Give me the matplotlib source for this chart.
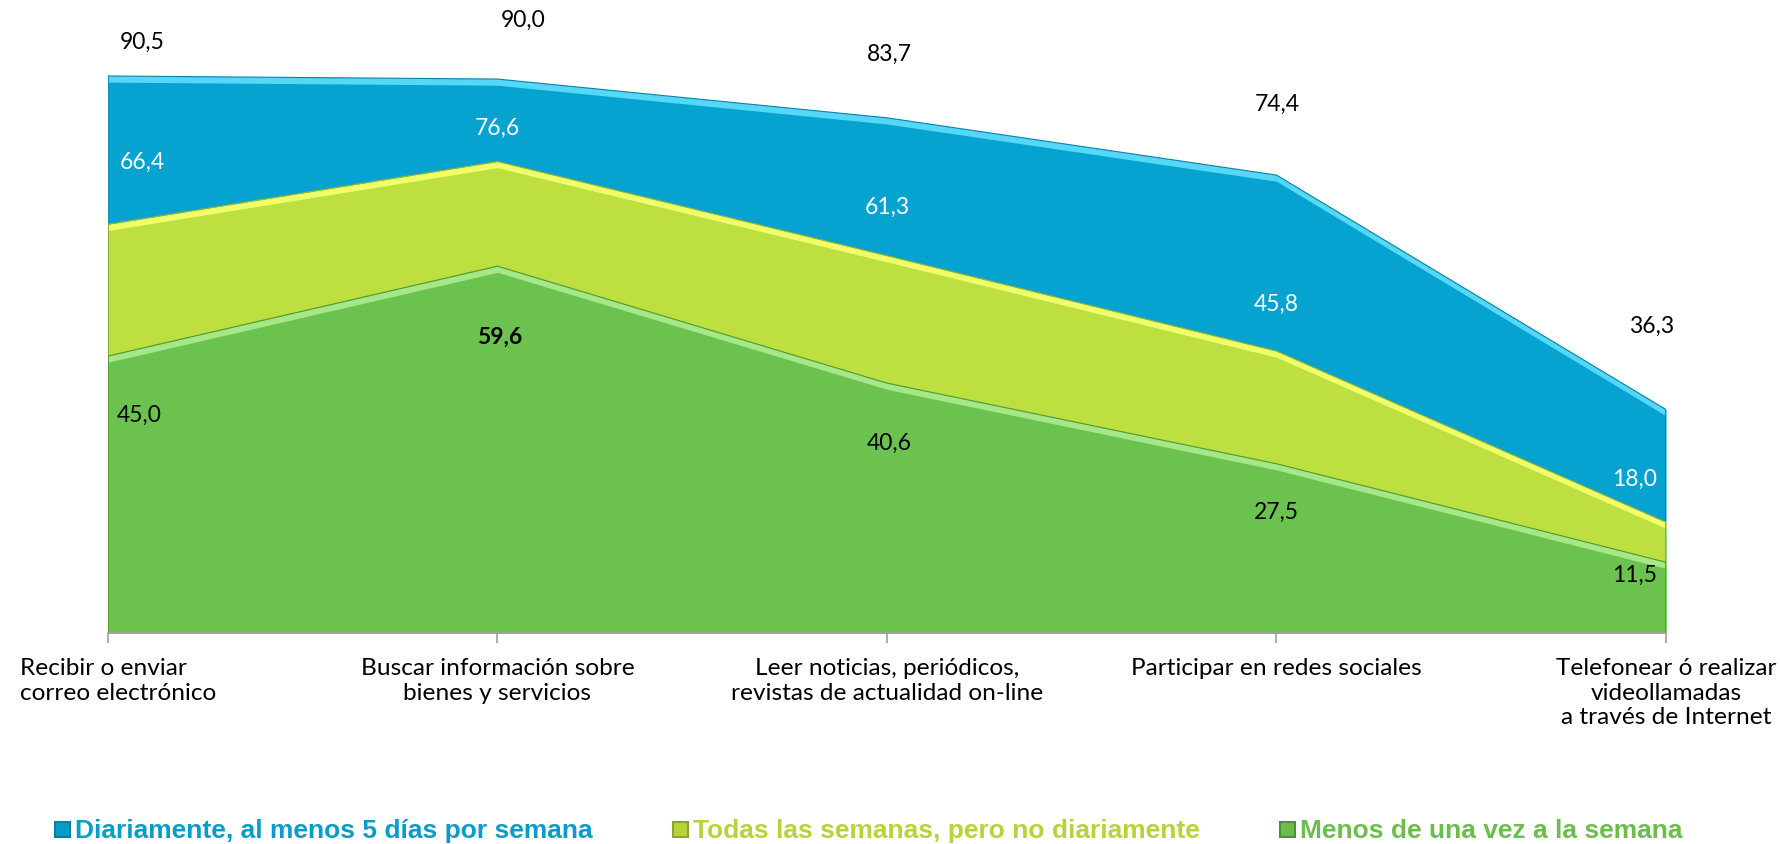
import matplotlib
matplotlib.use("Agg")
import matplotlib.pyplot as plt
from matplotlib.patches import Rectangle
import numpy as np

categories = ["Recibir o enviar\ncorreo electrónico",
              "Buscar información sobre\nbienes y servicios",
              "Leer noticias, periódicos,\nrevistas de actualidad on-line",
              "Participar en redes sociales",
              "Telefonear ó realizar\nvideollamadas\na través de Internet"]
series_names = ["Diariamente, al menos 5 días por semana",
                "Todas las semanas, pero no diariamente",
                "Menos de una vez a la semana"]
diario = [90.5, 90.0, 83.7, 74.4, 36.3]
semanal = [66.4, 76.6, 61.3, 45.8, 18.0]
menos = [45.0, 59.6, 40.6, 27.5, 11.5]
label_texts_diario = ["90,5", "90,0", "83,7", "74,4", "36,3"]
label_texts_semanal = ["66,4", "76,6", "61,3", "45,8", "18,0"]
label_texts_menos = ["45,0", "59,6", "40,6", "27,5", "11,5"]

# styles
fill_cols = ["#06A2D0", "#BDDF3F", "#6CC24F"]
edge_light = ["#55D8F8", "#EEFF6A", "#A6E888"]
edge_dark = ["#0582A8", "#98B52C", "#4E9A38"]
legend_text_cols = ["#0A9CC8", "#B6D437", "#6BBE4C"]
legend_box_cols = ["#0C7FA8", "#8FA528", "#4E9238"]

# label offsets in pixels (dx, dy)
off_diario = [(34, 35), (26, 60), (2, 64), (1, 72), (-14, 84)]
off_semanal = [(34, 63), (0, 34), (0, 49), (0, 48), (-31, 44)]
off_menos = [(31, -58), (2, -70), (2, -59), (0, -48), (-31, -12)]
cat_dx = [10, 0, 0, 0, 0]

W, H, DPI = 1781, 845, 100
fig = plt.figure(figsize=(W / DPI, H / DPI), dpi=DPI)
ax = fig.add_axes([108 / W, (H - 634) / H, (1666 - 108) / W, (634 - 18.5) / H])

x = np.arange(len(categories))
band = 1.0
for vals, fc, el, ed in zip([diario, semanal, menos], fill_cols, edge_light, edge_dark):
    v = np.array(vals)
    ax.fill_between(x, 0, v, color=fc, lw=0, zorder=2)
    ax.fill_between(x, v - band, v, color=el, lw=0, zorder=2.1)
    ax.plot(x, v, color=ed, lw=0.8, zorder=2.2)
    ax.plot([x[-1], x[-1]], [0, v[-1]], color=ed, lw=2.0, zorder=2.2)
    ax.plot([x[0], x[0]], [0, v[0]], color=ed, lw=1.2, zorder=2.2)

ax.set_xlim(0, len(categories) - 1)
ax.set_ylim(0, 100)
ax.set_yticks([])
for s in ["top", "right", "left"]:
    ax.spines[s].set_visible(False)
ax.spines["bottom"].set_color("#A0A0A0")
ax.spines["bottom"].set_linewidth(1.2)
ax.set_xticks(x)
ax.set_xticklabels([])
ax.tick_params(axis="x", direction="out", length=7, width=1.2, color="#A0A0A0")

lab_font = dict(family=["Lato", "DejaVu Sans"], fontsize=16.5)
cat_font = dict(family=["Lato", "DejaVu Sans"], fontsize=17.6)
for i in range(len(categories)):
    ax.annotate(label_texts_diario[i], (x[i], diario[i]), xytext=off_diario[i],
                textcoords="offset pixels", ha="center", va="center", color="black",
                zorder=5, **lab_font)
    ax.annotate(label_texts_semanal[i], (x[i], semanal[i]), xytext=off_semanal[i],
                textcoords="offset pixels", ha="center", va="center", color="white",
                zorder=5, **lab_font)
    ax.annotate(label_texts_menos[i], (x[i], menos[i]), xytext=off_menos[i],
                textcoords="offset pixels", ha="center", va="center", color="black",
                fontweight="bold" if i == 1 else "normal", zorder=5, **lab_font)

for i, c in enumerate(categories):
    ax.annotate(c, (x[i], 0), xytext=(cat_dx[i], -24), textcoords="offset pixels",
                ha="center", va="top", multialignment="left" if i == 0 else "center",
                linespacing=1.22, annotation_clip=False, **cat_font)

# legend
leg_font = dict(family=["Liberation Sans", "DejaVu Sans"], fontsize=19,
                fontweight="bold")
leg_x = [55, 673, 1280]
yb = 838
for name, lx, tc, bc in zip(series_names, leg_x, legend_text_cols, legend_box_cols):
    fig.patches.append(Rectangle((lx / W, (H - 838) / H), 15 / W, 15 / H,
                                 transform=fig.transFigure, facecolor=tc,
                                 edgecolor=bc, lw=1.5))
    fig.text((lx + 20) / W, (H - yb) / H, name, color=tc, ha="left", va="baseline",
             **leg_font)

fig.savefig("out.png", dpi=DPI)
